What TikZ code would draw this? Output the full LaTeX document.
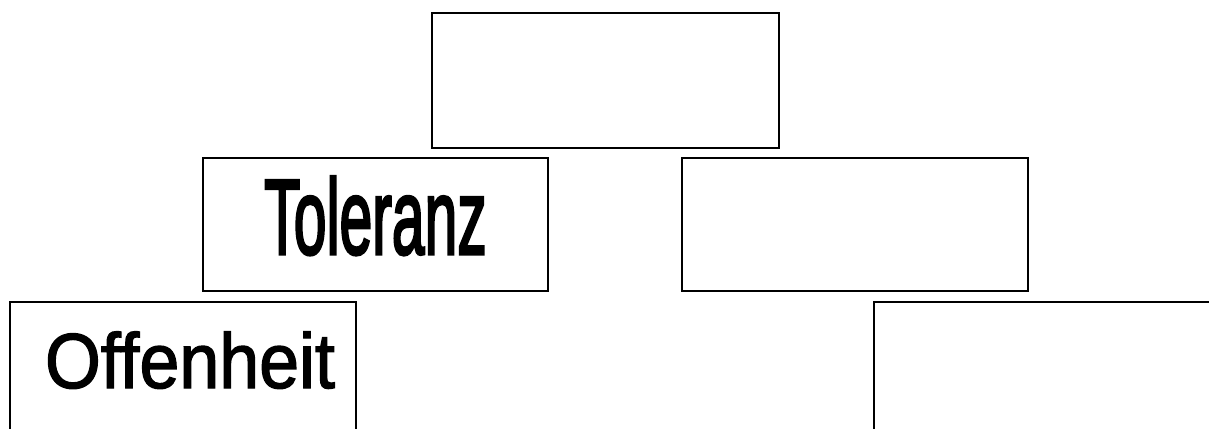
\documentclass[tikz,border=0pt]{standalone}
\usepackage{fontspec}
\setmainfont{Liberation Sans}
\newfontfamily\fbold[FakeBold=1.8]{Liberation Sans}
\newfontfamily\fboldx[FakeBold=3]{Liberation Sans}
\tikzset{box/.style={draw=black,line width=1.4pt,fill=white},
  lbl/.style={anchor=base,inner sep=0pt,text=black}}
\begin{document}
\begin{tikzpicture}[x=1pt,y=-1pt]
\useasboundingbox[fill=white] (0,0) rectangle (1209,428);
\begin{scope}
\clip (0,0) rectangle (1209,428);
\draw[box] (432,13) rectangle (779,148) node[pos=0.5,inner sep=0pt] (top) {};
\draw[box] (203,158) rectangle (548,291) node[pos=0.5,inner sep=0pt] (tol) {};
\draw[box] (682,158) rectangle (1028,291) node[pos=0.5,inner sep=0pt] (rmid) {};
\draw[box] (10,302) rectangle (356,440) node[pos=0.5,inner sep=0pt] (off) {};
\draw[box] (874,302) rectangle (1225,440) node[pos=0.5,inner sep=0pt] (rbot) {};
\end{scope}
\node[lbl] (toltext) at (375.5,254) {\fontsize{107}{110}\fboldx\scalebox{0.55}[1]{Toleranz}};
\node[lbl] (offtext) at (190,388) {\fontsize{78}{80}\fbold\scalebox{0.92}[1]{Offenheit}};
\end{tikzpicture}
\end{document}
